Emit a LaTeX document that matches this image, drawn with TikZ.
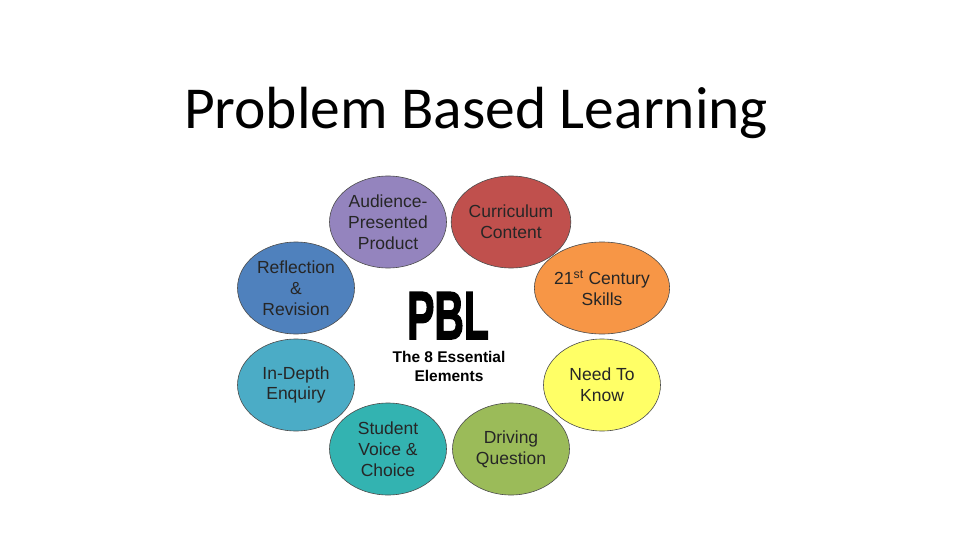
\documentclass[tikz,border=0pt]{standalone}
\usepackage{fontspec}
\setmainfont{Liberation Sans}
\newfontfamily\titlefont{Carlito}
\newfontfamily\pblfont[FakeBold=2.5]{Liberation Sans Bold}
\usetikzlibrary{shapes.geometric}
\definecolor{cAud}{HTML}{9484BE}
\definecolor{cCur}{HTML}{C0504D}
\definecolor{cRef}{HTML}{4F81BD}
\definecolor{cCen}{HTML}{F79646}
\definecolor{cDep}{HTML}{4BACC6}
\definecolor{cNeed}{HTML}{FFFF66}
\definecolor{cStu}{HTML}{33B3B1}
\definecolor{cDrv}{HTML}{9BBB59}
\tikzset{
  elem/.style={ellipse, draw=black!70, line width=0.6pt, minimum width=117pt, minimum height=92pt, inner sep=0pt,
    align=center, text=black!85, font=\fontsize{17.5}{20.8}\selectfont},
}
\begin{document}
\begin{tikzpicture}[x=1pt,y=-1pt]
\useasboundingbox (0,0) rectangle (960,540);
\fill[white] (0,0) rectangle (960,540);
\node[font=\titlefont\fontsize{59.5}{62}\selectfont, anchor=base] (title) at (476,129) {Problem Based Learning};
\node[elem, fill=cAud] (aud) at (388,222) {Audience-\\Presented\\Product};
\node[elem, fill=cCur] (cur) at (511,222) {Curriculum\\Content};
\node[elem, fill=cRef] (ref) at (296,288) {Reflection\\\&\\Revision};
\node[elem, fill=cCen] (cen) at (602,288) {21\textsuperscript{st} Century\\Skills};
\node[elem, fill=cDep] (dep) at (296,385) {In-Depth\\Enquiry};
\node[elem, fill=cNeed] (need) at (602,385) {Need To\\Know};
\node[elem, fill=cStu] (stu) at (388,449) {Student\\Voice \&\\Choice};
\node[elem, fill=cDrv] (drv) at (511,449) {Driving\\Question};
\node[inner sep=0pt, anchor=base] (pbl) at (448,339) {\scalebox{0.6}[1]{\pblfont\fontsize{68}{68}\selectfont PBL}};
\node[align=center, font=\fontsize{15.5}{19}\selectfont\bfseries, inner sep=0pt] (sub) at (449,366) {The 8 Essential\\Elements};
\end{tikzpicture}
\end{document}
